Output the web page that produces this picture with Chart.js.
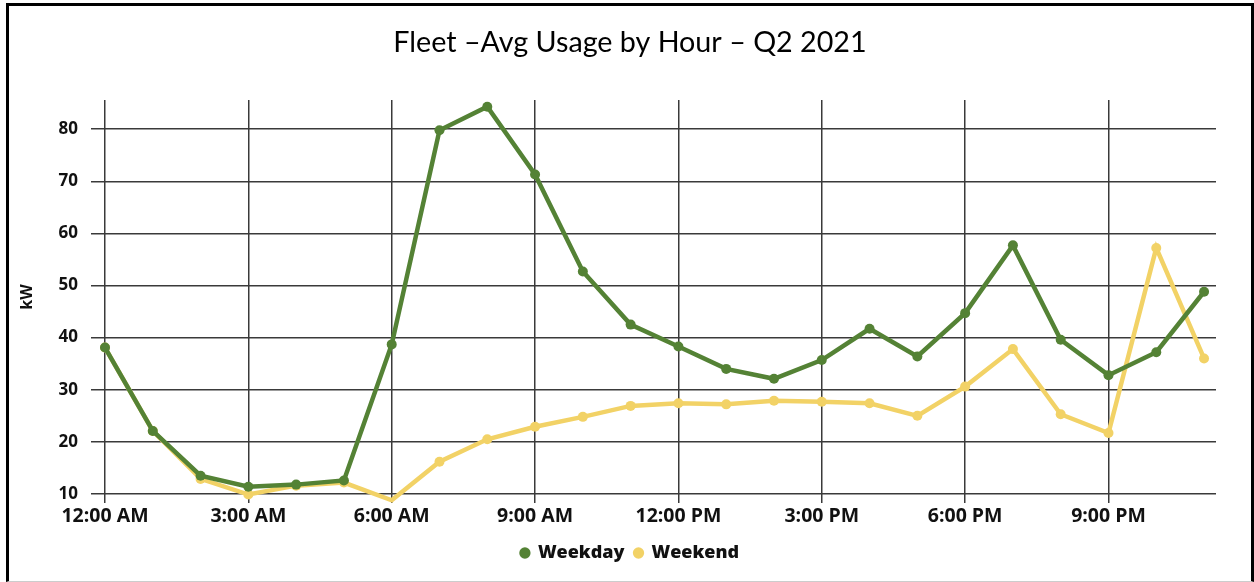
<!DOCTYPE html>
<html>
<head>
<meta charset="utf-8">
<script src="https://cdn.jsdelivr.net/npm/chart.js@4"></script>
<style>
  html, body { margin: 0; padding: 0; background: #fff; }
  #frame {
    position: absolute; left: 6px; top: 3px; width: 1242px; height: 575px;
    border-left: 3px solid #000; border-top: 3px solid #000; border-right: 3px solid #000;
    border-bottom: 1px solid #ccc;
  }
  #wrap { position: absolute; left: 0; top: 0; width: 1254px; height: 582px; }
</style>
</head>
<body>
<div id="frame"></div>
<div id="wrap"><canvas id="chart"></canvas></div>
<script>
const hours = [0, 1, 2, 3, 4, 5, 6, 7, 8, 9, 10, 11, 12, 13, 14, 15, 16, 17, 18, 19, 20, 21, 22, 23];
const hourLabels = {0: "12:00 AM", 3: "3:00 AM", 6: "6:00 AM", 9: "9:00 AM", 12: "12:00 PM", 15: "3:00 PM", 18: "6:00 PM", 21: "9:00 PM"};
const weekday = [38.1, 22.1, 13.5, 11.4, 11.8, 12.6, 38.7, 79.8, 84.3, 71.3, 52.7, 42.5, 38.3, 34.0, 32.1, 35.7, 41.7, 36.4, 44.7, 57.7, 39.6, 32.8, 37.2, 48.8];
const weekend = [38.1, 22.1, 12.9, 9.9, 11.6, 12.2, 8.8, 16.2, 20.5, 22.9, 24.8, 26.9, 27.4, 27.2, 27.9, 27.7, 27.4, 25.0, 30.6, 37.8, 25.3, 21.7, 57.2, 36.0];
const yTicks = [10, 20, 30, 40, 50, 60, 70, 80];

const green = "#548235", yellow = "#F2D266";
const gridColor = "#3a3a3a";

const serie = (label, values, color) => ({
  label: label,
  data: hours.map((h, i) => ({ x: h, y: values[i] })),
  borderColor: color,
  backgroundColor: color,
  borderWidth: 4.5,
  pointRadius: 5,
  pointBorderWidth: 0,
  pointHoverRadius: 5,
  clip: false,
  tension: 0
});

const ctx = document.getElementById("chart").getContext("2d");
new Chart(ctx, {
  type: "line",
  data: { datasets: [serie("Weekday", weekday, green), serie("Weekend", weekend, yellow)] },
  options: {
    responsive: true,
    maintainAspectRatio: false,
    animation: false,
    // left padding chosen so title and legend centre near x=630 like the original
    layout: { padding: { left: 44, right: 38, top: 0, bottom: 10 } },
    plugins: {
      title: {
        display: true,
        text: "Fleet –Avg Usage by Hour – Q2 2021",
        color: "#000",
        font: { family: "Lato", size: 28.7, weight: "normal" },
        padding: { top: 26, bottom: 39.5 }
      },
      legend: {
        position: "bottom",
        labels: {
          usePointStyle: true,
          pointStyle: "circle",
          boxWidth: 8,
          boxHeight: 8,
          padding: 10,
          color: "#111",
          font: { family: "Open Sans", size: 18, weight: 800 }
        }
      },
      tooltip: { enabled: false }
    },
    scales: {
      x: {
        type: "linear",
        min: 0,
        max: 23.25,
        afterBuildTicks: (s) => { s.ticks = Object.keys(hourLabels).map((v) => ({ value: +v })); },
        afterFit: (s) => { s.height = 40; },
        ticks: {
          autoSkip: false,
          maxRotation: 0,
          padding: 2,
          color: "#111",
          font: { family: "Open Sans", size: 19.5, weight: "bold" },
          callback: (v) => hourLabels[v]
        },
        grid: { color: gridColor, lineWidth: 1.5, tickLength: 9 },
        border: { display: false }
      },
      y: {
        min: 10,
        max: 85.6,
        afterBuildTicks: (s) => { s.ticks = yTicks.map((v) => ({ value: v })); },
        afterFit: (s) => { s.width = 61; },
        title: {
          display: true,
          text: "kW",
          color: "#111",
          font: { family: "Open Sans", size: 16, weight: "bold" },
          padding: { top: -26, bottom: 0 }
        },
        ticks: {
          padding: 13,
          color: "#111",
          font: { family: "Open Sans", size: 17, weight: "bold" }
        },
        grid: { color: gridColor, lineWidth: 1.5, tickLength: 14 },
        border: { display: false }
      }
    }
  }
});
</script>
</body>
</html>
